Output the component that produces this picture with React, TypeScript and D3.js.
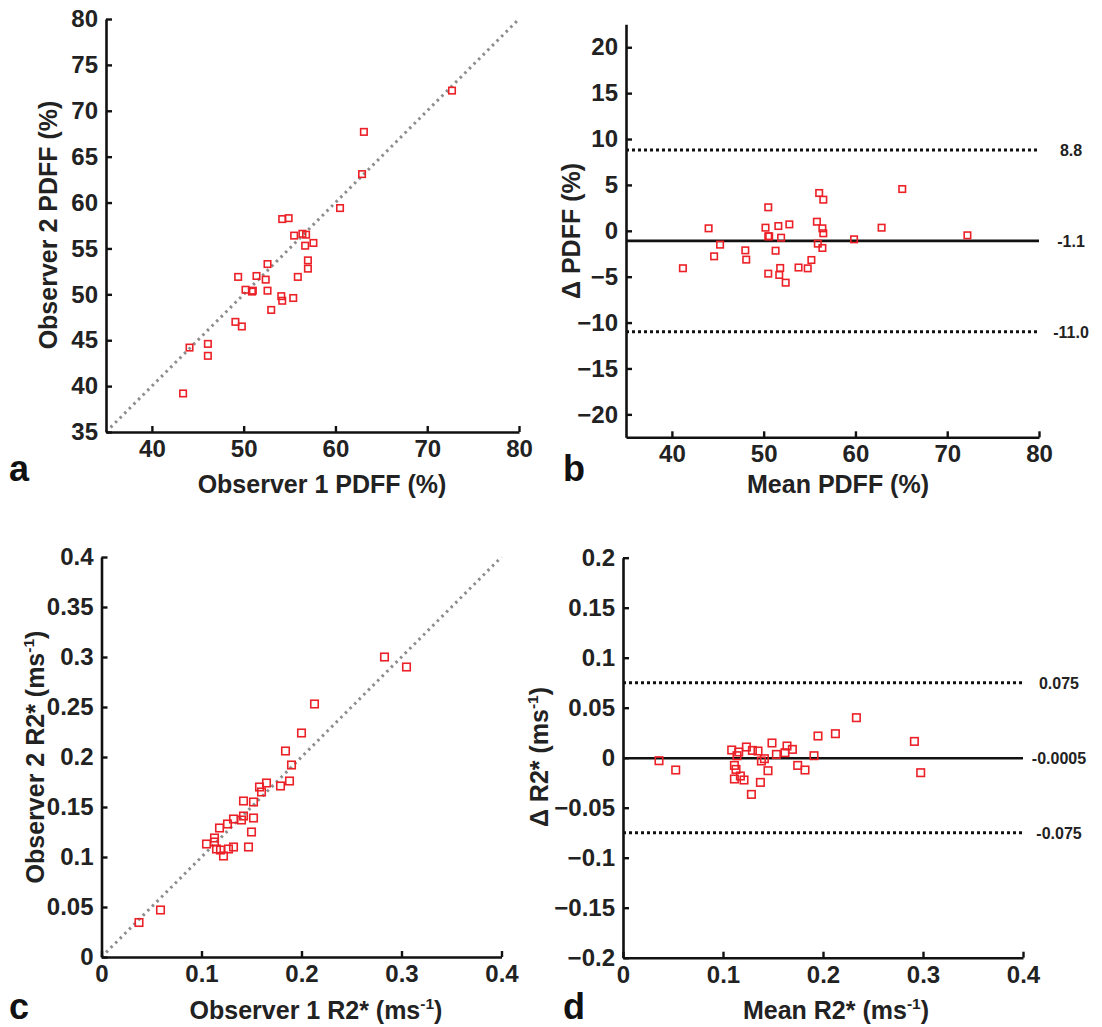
import React, { useRef, useEffect } from 'react';
import * as d3 from 'd3';

// Panel a: observer 1 vs observer 2 PDFF (%)
const PDFF_OBS1 = [63.1, 62.9, 60.5, 54.2, 54.9, 55.5, 56.4, 56.8, 56.7, 57.6, 57.0, 57.0, 55.9, 52.6, 52.4, 51.4,
  49.4, 50.2, 50.9, 51.0, 52.6, 54.1, 54.2, 55.4, 53.0, 49.1, 49.8, 44.1, 46.1, 46.1, 43.4, 72.7];
const PDFF_OBS2 = [67.7, 63.1, 59.4, 58.2, 58.3, 56.4, 56.6, 56.5, 55.3, 55.6, 53.7, 52.8, 51.9, 53.3, 51.6, 52.0,
  51.9, 50.5, 50.3, 50.4, 50.4, 49.8, 49.3, 49.6, 48.3, 47.0, 46.5, 44.2, 44.6, 43.3, 39.2, 72.2];

// Panel b: Bland-Altman PDFF
const PDFF_MEAN = [41.2, 44.0, 44.6, 45.25, 48.0, 48.1, 50.5, 50.2, 50.5, 50.6, 50.5, 51.3, 51.6, 51.9, 51.8, 51.7,
  52.4, 52.8, 53.8, 54.8, 55.2, 55.8, 56.05, 56.5, 56.4, 56.5, 55.9, 56.4, 59.85, 62.85, 65.1, 72.2];
const PDFF_DIFF = [-4.08, 0.27, -2.78, -1.51, -2.13, -3.14, 2.56, 0.34, -0.6, -0.6, -4.67, -2.17, 0.52, -0.75, -4.05, -4.81,
  -5.65, 0.7, -4.0, -4.09, -3.18, 0.99, 4.12, 3.39, 0.27, -0.27, -1.4, -1.87, -0.93, 0.34, 4.55, -0.49];
const PDFF_LINES = [8.8, -1.1, -11.0];
const PDFF_LINE_LABELS = ['8.8', '-1.1', '-11.0'];

// Panel c: observer 1 vs observer 2 R2* (ms-1)
const R2_OBS1 = [0.0375, 0.059, 0.105, 0.115, 0.119, 0.122, 0.113, 0.113, 0.127, 0.132, 0.118, 0.147, 0.126, 0.132,
  0.15, 0.14, 0.142, 0.152, 0.142, 0.152, 0.16, 0.158, 0.165, 0.179, 0.188, 0.19, 0.184, 0.2, 0.213, 0.283, 0.305];
const R2_OBS2 = [0.0345, 0.047, 0.113, 0.108, 0.107, 0.101, 0.115, 0.119, 0.108, 0.11, 0.129, 0.11, 0.133, 0.138,
  0.125, 0.137, 0.141, 0.139, 0.156, 0.155, 0.165, 0.17, 0.174, 0.171, 0.176, 0.192, 0.206, 0.224, 0.253, 0.3, 0.29];

// Panel d: Bland-Altman R2*
const R2_MEAN = [0.036, 0.0527, 0.1087, 0.1114, 0.113, 0.1114, 0.114, 0.1157, 0.1174, 0.121, 0.1234, 0.1284, 0.1294,
  0.135, 0.1374, 0.1384, 0.1414, 0.145, 0.149, 0.1534, 0.162, 0.164, 0.1694, 0.1747, 0.182, 0.191, 0.195, 0.2124,
  0.2334, 0.2914, 0.2977];
const R2_DIFF = [-0.003, -0.0123, 0.0077, -0.0077, -0.0117, -0.0213, 0.002, 0.0057, -0.0183, -0.0223, 0.0107, -0.0367,
  0.0073, 0.0067, -0.0247, -0.0033, -0.001, -0.013, 0.0147, 0.0033, 0.005, 0.0117, 0.0083, -0.0077, -0.0123, 0.002,
  0.0217, 0.024, 0.04, 0.0163, -0.015];
const R2_LINES = [0.075, -0.0005, -0.075];
const R2_LINE_LABELS = ['0.075', '-0.0005', '-0.075'];

const FONT = '"Liberation Sans", Arial, Helvetica, sans-serif';
const RED = '#ec2027';
const TICK_FONT = 24;
const TITLE_FONT = 25;

function drawAxes(g, x, y, xTicks, yTicks, fmt) {
  const xAxis = g.append('g')
    .attr('transform', `translate(0,${y.range()[0]})`)
    .call(d3.axisBottom(x).tickValues(xTicks).tickFormat(fmt).tickSizeInner(-6).tickSizeOuter(0).tickPadding(8));
  const yAxis = g.append('g')
    .attr('transform', `translate(${x.range()[0]},0)`)
    .call(d3.axisLeft(y).tickValues(yTicks).tickFormat(fmt).tickSizeInner(-6).tickSizeOuter(0).tickPadding(8));
  [xAxis, yAxis].forEach(a => {
    a.select('.domain').attr('stroke', '#111').attr('stroke-width', 2.6);
    a.selectAll('.tick line').attr('stroke', '#111').attr('stroke-width', 2.4);
    a.selectAll('.tick text').attr('fill', '#222').attr('font-size', TICK_FONT)
      .attr('font-weight', 'bold').attr('font-family', FONT);
  });
}

function drawSquares(g, x, y, xs, ys, size) {
  g.append('g').selectAll('rect')
    .data(xs.map((v, i) => [v, ys[i]]))
    .join('rect')
    .attr('x', d => x(d[0]) - size / 2)
    .attr('y', d => y(d[1]) - size / 2)
    .attr('width', size)
    .attr('height', size)
    .attr('fill', 'none')
    .attr('stroke', RED)
    .attr('stroke-width', 1.6);
}

function title(g, txt, x, y, rotate, sup?) {
  const t = g.append('text')
    .attr('font-family', FONT)
    .attr('font-weight', 'bold')
    .attr('font-size', TITLE_FONT)
    .attr('fill', '#222')
    .attr('text-anchor', 'middle')
    .attr('transform', `translate(${x},${y})${rotate ? ' rotate(-90)' : ''}`);
  t.append('tspan').text(txt);
  if (sup) {
    t.append('tspan').attr('font-size', TITLE_FONT * 0.62).attr('dy', -10).text('-1');
    t.append('tspan').attr('dy', 10).text(')');
  }
}

function letter(g, txt, x, y) {
  g.append('text').attr('x', x).attr('y', y)
    .attr('font-family', FONT).attr('font-weight', 'bold').attr('font-size', 36).attr('fill', '#111')
    .text(txt);
}

function refLines(g, x, y, values, labels, labelX) {
  values.forEach((v, i) => {
    g.append('line')
      .attr('x1', x.range()[0]).attr('x2', x.range()[1]).attr('y1', y(v)).attr('y2', y(v))
      .attr('stroke', '#111').attr('stroke-width', i === 1 ? 2.6 : 3)
      .attr('stroke-dasharray', i === 1 ? null : '3,3');
    g.append('text').attr('x', labelX).attr('y', y(v) + 6).attr('text-anchor', 'middle')
      .attr('font-family', FONT).attr('font-weight', 'bold').attr('font-size', 16).attr('fill', '#222')
      .text(labels[i]);
  });
}

export default function App() {
  const svgRef = useRef(null);

  useEffect(() => {
    document.body.style.margin = '0';
    const svg = d3.select(svgRef.current);
    svg.selectAll('*').remove();
    svg.append('rect').attr('width', 1102).attr('height', 1027).attr('fill', '#fff');
    const fmt = d => d3.format('~g')(d);

    // ---- panel a
    const ax = d3.scaleLinear().domain([35, 80]).range([106, 519]);
    const ay = d3.scaleLinear().domain([35, 80]).range([432, 19]);
    const ga = svg.append('g');
    ga.append('line')
      .attr('x1', ax(35)).attr('y1', ay(35)).attr('x2', ax(80)).attr('y2', ay(80))
      .attr('stroke', '#8c8c8c').attr('stroke-width', 3).attr('stroke-dasharray', '2.5,4');
    drawAxes(ga, ax, ay, d3.range(40, 81, 10), d3.range(35, 81, 5), fmt);
    drawSquares(ga, ax, ay, PDFF_OBS1, PDFF_OBS2, 6.5);
    title(ga, 'Observer 1 PDFF (%)', 322, 493, false);
    title(ga, 'Observer 2 PDFF (%)', 57, 225, true);
    letter(ga, 'a', 9, 481);

    // ---- panel b
    const bx = d3.scaleLinear().domain([35, 80]).range([626, 1039]);
    const by = d3.scaleLinear().domain([-22.5, 22.5]).range([437.3, 24.3]);
    const gb = svg.append('g');
    refLines(gb, bx, by, PDFF_LINES, PDFF_LINE_LABELS, 1071);
    drawAxes(gb, bx, by, d3.range(40, 81, 10), d3.range(-20, 21, 5), fmt);
    drawSquares(gb, bx, by, PDFF_MEAN, PDFF_DIFF, 6.5);
    title(gb, 'Mean PDFF (%)', 838, 493, false);
    title(gb, '\u0394 PDFF (%)', 580, 231, true);
    letter(gb, 'b', 563, 481);

    // ---- panel c
    const cx = d3.scaleLinear().domain([0, 0.4]).range([101.5, 501.5]);
    const cy = d3.scaleLinear().domain([0, 0.4]).range([957, 557]);
    const gc = svg.append('g');
    gc.append('line')
      .attr('x1', cx(0)).attr('y1', cy(0)).attr('x2', cx(0.4)).attr('y2', cy(0.4))
      .attr('stroke', '#8c8c8c').attr('stroke-width', 3).attr('stroke-dasharray', '2.5,4');
    drawAxes(gc, cx, cy, d3.range(0, 0.41, 0.1), d3.range(0, 0.401, 0.05), fmt);
    drawSquares(gc, cx, cy, R2_OBS1, R2_OBS2, 7.5);
    title(gc, 'Observer 1 R2* (ms', 316, 1019, false, true);
    title(gc, 'Observer 2 R2* (ms', 44, 757, true, true);
    letter(gc, 'c', 9, 1019);

    // ---- panel d
    const dx = d3.scaleLinear().domain([0, 0.4]).range([623, 1023]);
    const dy = d3.scaleLinear().domain([-0.2, 0.2]).range([957.7, 557.7]);
    const gd = svg.append('g');
    refLines(gd, dx, dy, R2_LINES, R2_LINE_LABELS, 1059);
    drawAxes(gd, dx, dy, d3.range(0, 0.41, 0.1), d3.range(-0.2, 0.201, 0.05), fmt);
    drawSquares(gd, dx, dy, R2_MEAN, R2_DIFF, 7.5);
    title(gd, 'Mean R2* (ms', 836, 1019, false, true);
    title(gd, '\u0394 R2* (ms', 548, 757, true, true);
    letter(gd, 'd', 563, 1019);
  }, []);

  return <svg ref={svgRef} width={1102} height={1027} style={{ display: 'block' }} />;
}
